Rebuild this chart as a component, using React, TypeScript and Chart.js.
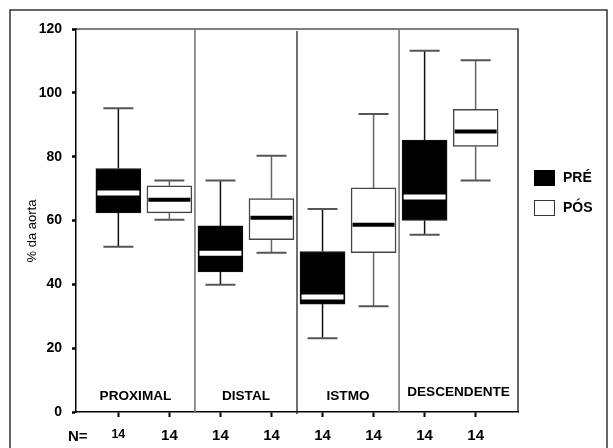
import React, { useEffect, useRef } from 'react';
import { Chart, registerables } from 'chart.js';

Chart.register(...registerables);

// ---- data ----
const categories = ['PROXIMAL', 'DISTAL', 'ISTMO', 'DESCENDENTE'];
const seriesNames = ['PRÉ', 'PÓS'];

const preMin = [51.8, 39.9, 23.1, 55.5];
const preQ1 = [62.4, 43.9, 33.8, 60.0];
const preMedian = [68.6, 49.7, 36.0, 67.4];
const preQ3 = [76.3, 58.3, 50.3, 85.2];
const preMax = [95.2, 72.5, 63.6, 113.2];

const posMin = [60.2, 49.9, 33.1, 72.5];
const posQ1 = [62.4, 54.0, 49.9, 83.2];
const posMedian = [66.5, 60.9, 58.7, 87.9];
const posQ3 = [70.9, 66.9, 70.2, 94.8];
const posMax = [72.5, 80.3, 93.4, 110.2];

const nCounts = [14, 14, 14, 14, 14, 14, 14, 14];
const yTickValues = [0, 20, 40, 60, 80, 100, 120];
const yAxisTitle = '% da aorta';
const nLabel = 'N=';

const FONT = '"Liberation Sans", Arial, Helvetica, sans-serif';

const stats = [
  { min: preMin, q1: preQ1, med: preMedian, q3: preQ3, max: preMax },
  { min: posMin, q1: posQ1, med: posMedian, q3: posQ3, max: posMax },
];

export default function App() {
  const ref = useRef<HTMLCanvasElement | null>(null);

  useEffect(() => {
    const canvas = ref.current;
    if (!canvas) return;

    const boxPlugin = {
      id: 'boxplotExtras',
      beforeDraw(chart: any) {
        const ctx = chart.ctx;
        ctx.save();
        ctx.strokeStyle = '#333';
        ctx.lineWidth = 1.5;
        ctx.strokeRect(10, 10, 597, 470);
        ctx.restore();
      },
      beforeDatasetsDraw(chart: any) {
        const ctx = chart.ctx;
        const xs = chart.scales.x;
        const ys = chart.scales.y;
        ctx.save();
        stats.forEach((s, d) => {
          const meta = chart.getDatasetMeta(d);
          categories.forEach((_, i) => {
            const bar = meta.data[i];
            const x = xs.getPixelForValue(2 * i + d);
            const half = bar.width / 3;
            const yMax = ys.getPixelForValue(s.max[i]);
            const yMin = ys.getPixelForValue(s.min[i]);
            const yQ1 = ys.getPixelForValue(s.q1[i]);
            const yQ3 = ys.getPixelForValue(s.q3[i]);
            ctx.strokeStyle = d === 0 ? '#111' : '#666';
            ctx.lineWidth = 1.5;
            ctx.beginPath();
            ctx.moveTo(x, yQ3);
            ctx.lineTo(x, yMax);
            ctx.moveTo(x, yQ1);
            ctx.lineTo(x, yMin);
            ctx.stroke();
            ctx.strokeStyle = '#555';
            ctx.lineWidth = 2;
            ctx.beginPath();
            ctx.moveTo(x - half, yMax);
            ctx.lineTo(x + half, yMax);
            ctx.moveTo(x - half, yMin);
            ctx.lineTo(x + half, yMin);
            ctx.stroke();
          });
        });
        ctx.restore();
      },
      afterDatasetsDraw(chart: any) {
        const ctx = chart.ctx;
        const xs = chart.scales.x;
        const ys = chart.scales.y;
        ctx.save();
        stats.forEach((s, d) => {
          const meta = chart.getDatasetMeta(d);
          categories.forEach((_, i) => {
            const bar = meta.data[i];
            const x = xs.getPixelForValue(2 * i + d);
            const hw = bar.width / 2 - 1.5;
            const y = ys.getPixelForValue(s.med[i]);
            ctx.strokeStyle = d === 0 ? '#fff' : '#000';
            ctx.lineWidth = d === 0 ? 5 : 4;
            ctx.beginPath();
            ctx.moveTo(x - hw, y);
            ctx.lineTo(x + hw, y);
            ctx.stroke();
          });
        });
        ctx.restore();
      },
      afterDraw(chart: any) {
        const ctx = chart.ctx;
        const xs = chart.scales.x;
        const area = chart.chartArea;
        ctx.save();
        // top and right of plot frame
        ctx.strokeStyle = '#000';
        ctx.lineWidth = 1.2;
        ctx.beginPath();
        ctx.moveTo(area.left, area.top);
        ctx.lineTo(area.right, area.top);
        ctx.lineTo(area.right, area.bottom);
        ctx.stroke();
        // group separators
        const seps = [1.5, 3.5, 5.5].map((v) => xs.getPixelForValue(v));
        seps.forEach((sx, k) => {
          ctx.strokeStyle = k === 1 ? '#111' : '#777';
          ctx.lineWidth = k === 1 ? 1.2 : 1.6;
          ctx.beginPath();
          ctx.moveTo(sx, area.top + (k === 1 ? 2 : 0));
          ctx.lineTo(sx, area.bottom + (k === 1 ? 2 : 0));
          ctx.stroke();
        });
        // group labels
        const edges = [area.left, ...seps, area.right];
        ctx.fillStyle = '#000';
        ctx.font = `bold 13.6px ${FONT}`;
        ctx.textAlign = 'center';
        ctx.textBaseline = 'middle';
        categories.forEach((c, i) => {
          const cx = (edges[i] + edges[i + 1]) / 2;
          const y = area.bottom - (i === 3 ? 20 : 16);
          ctx.fillText(c, cx, y);
        });
        // y axis title
        ctx.save();
        ctx.translate(32, 231);
        ctx.rotate(-Math.PI / 2);
        ctx.font = `13px ${FONT}`;
        ctx.textAlign = 'center';
        ctx.textBaseline = 'middle';
        ctx.fillText(yAxisTitle, 0, 0);
        ctx.restore();
        // N= label
        ctx.font = `bold 15px ${FONT}`;
        ctx.textAlign = 'left';
        ctx.textBaseline = 'middle';
        ctx.fillText(nLabel, 68, 437);
        // legend
        const lx = area.right + 16;
        const fills = ['#000', '#fff'];
        const tops = [170, 200];
        ctx.font = `bold 14px ${FONT}`;
        seriesNames.forEach((name, k) => {
          ctx.fillStyle = fills[k];
          ctx.fillRect(lx, tops[k], 21, 16);
          ctx.strokeStyle = k === 0 ? '#000' : '#333';
          ctx.lineWidth = 1;
          ctx.strokeRect(lx + 0.5, tops[k] + 0.5, 20, 15);
          ctx.fillStyle = '#000';
          ctx.textAlign = 'left';
          ctx.textBaseline = 'middle';
          ctx.fillText(name, lx + 29, tops[k] + 8.5);
        });
        ctx.restore();
      },
    };

    const chart = new Chart(canvas, {
      type: 'bar',
      data: {
        datasets: [
          {
            label: seriesNames[0],
            data: categories.map((_, i) => ({ x: 2 * i, y: [preQ1[i], preQ3[i]] })) as any,
            backgroundColor: '#000',
            borderColor: '#111',
            borderWidth: 1,
            borderSkipped: false,
            barThickness: 45,
            grouped: false,
          },
          {
            label: seriesNames[1],
            data: categories.map((_, i) => ({ x: 2 * i + 1, y: [posQ1[i], posQ3[i]] })) as any,
            backgroundColor: '#fff',
            borderColor: '#444',
            borderWidth: 1.5,
            borderSkipped: false,
            barThickness: 45,
            grouped: false,
          },
        ],
      },
      options: {
        animation: false,
        responsive: true,
        maintainAspectRatio: false,
        events: [],
        layout: { padding: { left: 0, right: 95, top: 29, bottom: 0 } },
        plugins: {
          legend: { display: false },
          tooltip: { enabled: false },
          title: { display: false },
        },
        scales: {
          x: {
            type: 'linear',
            min: -0.83,
            max: 7.83,
            offset: false,
            afterFit(scale: any) {
              scale.height = 36;
            },
            afterBuildTicks(scale: any) {
              scale.ticks = nCounts.map((_, i) => ({ value: i }));
            },
            grid: {
              offset: false,
              drawOnChartArea: false,
              drawTicks: true,
              tickLength: 5,
              tickColor: '#000',
              tickWidth: 2,
            },
            border: { display: true, color: '#000', width: 1.5 },
            ticks: {
              color: '#000',
              padding: 10,
              maxRotation: 0,
              autoSkip: false,
              font: (c: any) => ({ family: FONT, weight: 'bold', size: c.index === 0 ? 12.5 : 15 }),
              callback: (v: any) => String(nCounts[Math.round(Number(v))]),
            },
          },
          y: {
            type: 'linear',
            min: 0,
            max: 120,
            afterFit(scale: any) {
              scale.width = 76;
            },
            afterBuildTicks(scale: any) {
              scale.ticks = yTickValues.map((v) => ({ value: v }));
            },
            grid: {
              drawOnChartArea: false,
              drawTicks: true,
              tickLength: 4,
              tickColor: '#000',
              tickWidth: 2.5,
            },
            border: { display: true, color: '#000', width: 1.5 },
            ticks: {
              color: '#000',
              padding: 10,
              font: { family: FONT, weight: 'bold', size: 14 },
            },
            title: { display: false },
          },
        },
      } as any,
      plugins: [boxPlugin],
    });

    return () => chart.destroy();
  }, []);

  return (
    <div style={{ position: 'absolute', left: 0, top: 0, width: 613, height: 448, background: '#fff' }}>
      <canvas ref={ref} />
    </div>
  );
}
